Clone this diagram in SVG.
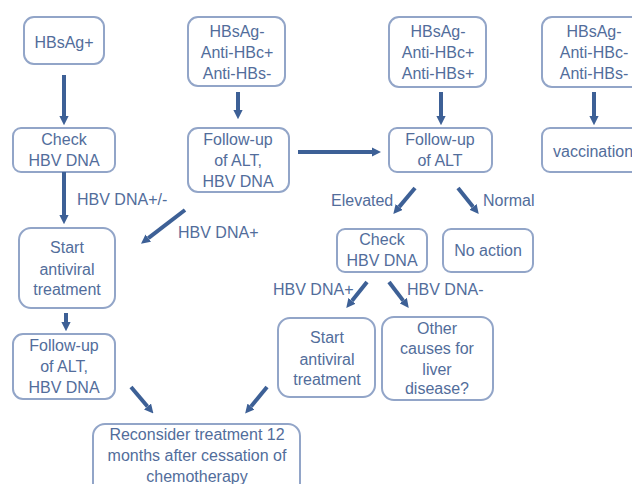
<svg xmlns="http://www.w3.org/2000/svg" width="632" height="484" viewBox="0 0 632 484">
<defs>
<style>
.box{fill:#ffffff;stroke:#92a5c8;stroke-width:2}
.t{font-family:"Liberation Sans",Arial,sans-serif;font-size:16px;fill:#526d9b;text-anchor:middle}
.lbl{font-family:"Liberation Sans",Arial,sans-serif;font-size:16px;fill:#526d9b}
.ar{stroke:#3d6096;stroke-width:4;fill:none;marker-end:url(#ah)}
</style>
<marker id="ah" viewBox="0 0 10 10" refX="0" refY="5" markerWidth="2.3" markerHeight="2.3" orient="auto" markerUnits="strokeWidth">
<path d="M0,0 L10,5 L0,10 Z" fill="#3d6096"/>
</marker>
</defs>
<rect width="632" height="484" fill="#ffffff"/>
<g id="n1"><rect class="box" x="24" y="17" width="80" height="47" rx="10"/><text class="t" x="64" y="48">HBsAg+</text></g>
<g id="n2"><rect class="box" x="188" y="17" width="97" height="69" rx="10"/><text class="t" x="237" y="37">HBsAg-</text><text class="t" x="237" y="58">Anti-HBc+</text><text class="t" x="237" y="79">Anti-HBs-</text></g>
<g id="n3"><rect class="box" x="389" y="17" width="97" height="70" rx="10"/><text class="t" x="438" y="37">HBsAg-</text><text class="t" x="438" y="58">Anti-HBc+</text><text class="t" x="438" y="79">Anti-HBs+</text></g>
<g id="n4"><rect class="box" x="542" y="17" width="104" height="70" rx="10"/><text class="t" x="594" y="37">HBsAg-</text><text class="t" x="594" y="58">Anti-HBc-</text><text class="t" x="594" y="79">Anti-HBs-</text></g>
<g id="n5"><rect class="box" x="13" y="128" width="102" height="44" rx="8"/><text class="t" x="64" y="145">Check</text><text class="t" x="64" y="166">HBV DNA</text></g>
<g id="n6"><rect class="box" x="188" y="128" width="101" height="64" rx="10"/><text class="t" x="238" y="145">Follow-up</text><text class="t" x="238" y="166">of ALT,</text><text class="t" x="238" y="187">HBV DNA</text></g>
<g id="n7"><rect class="box" x="389" y="128" width="103" height="44" rx="8"/><text class="t" x="440" y="145">Follow-up</text><text class="t" x="440" y="166">of ALT</text></g>
<g id="n8"><rect class="box" x="542" y="128" width="104" height="44" rx="8"/><text class="lbl" x="553" y="157">vaccination</text></g>
<g id="n9"><rect class="box" x="19" y="228" width="96" height="80" rx="12"/><text class="t" x="67" y="253">Start</text><text class="t" x="67" y="275">antiviral</text><text class="t" x="67" y="295">treatment</text></g>
<g id="n10"><rect class="box" x="337" y="229" width="90" height="43" rx="8"/><text class="t" x="382" y="245">Check</text><text class="t" x="382" y="266">HBV DNA</text></g>
<g id="n11"><rect class="box" x="443" y="229" width="90" height="43" rx="8"/><text class="t" x="488" y="256">No action</text></g>
<g id="n12"><rect class="box" x="13" y="334" width="102" height="65" rx="10"/><text class="t" x="64" y="351">Follow-up</text><text class="t" x="64" y="372">of ALT,</text><text class="t" x="64" y="393">HBV DNA</text></g>
<g id="n13"><rect class="box" x="278" y="318" width="97" height="79" rx="12"/><text class="t" x="327" y="343">Start</text><text class="t" x="327" y="365">antiviral</text><text class="t" x="327" y="385">treatment</text></g>
<g id="n14"><rect class="box" x="382" y="317" width="111" height="83" rx="12"/><text class="t" x="437" y="334">Other</text><text class="t" x="437" y="354">causes for</text><text class="t" x="437" y="375">liver</text><text class="t" x="437" y="394">disease?</text></g>
<g id="n15"><rect class="box" x="93" y="424" width="207" height="75" rx="12"/><text class="t" x="197" y="440">Reconsider treatment 12</text><text class="t" x="197" y="461">months after cessation of</text><text class="t" x="197" y="482">chemotherapy</text></g>
<g id="connectors">
<line class="ar" x1="64" y1="75" x2="64" y2="116"/>
<line class="ar" x1="238" y1="92" x2="238" y2="110"/>
<line class="ar" x1="441" y1="92" x2="441" y2="116"/>
<line class="ar" x1="594" y1="92" x2="594" y2="116"/>
<line class="ar" x1="298" y1="152" x2="372" y2="152"/>
<line class="ar" x1="64" y1="172" x2="64" y2="215"/>
<line class="ar" x1="185" y1="210" x2="148.3" y2="238.1"/>
<line class="ar" x1="66" y1="313" x2="66" y2="322"/>
<line class="ar" x1="415" y1="188" x2="399.2" y2="206.9"/>
<line class="ar" x1="458" y1="188" x2="473" y2="206.8"/>
<line class="ar" x1="367" y1="282" x2="352" y2="300.8"/>
<line class="ar" x1="389" y1="282" x2="403.2" y2="300.6"/>
<line class="ar" x1="131" y1="387" x2="147.5" y2="406.5"/>
<line class="ar" x1="267" y1="387" x2="251" y2="406.5"/>
</g>
<g id="labels">
<text class="lbl" x="77" y="205">HBV DNA+/-</text>
<text class="lbl" x="178" y="238">HBV DNA+</text>
<text class="lbl" x="331" y="206">Elevated</text>
<text class="lbl" x="483" y="206">Normal</text>
<text class="lbl" x="273" y="295">HBV DNA+</text>
<text class="lbl" x="407" y="295">HBV DNA-</text>
</g>
</svg>
